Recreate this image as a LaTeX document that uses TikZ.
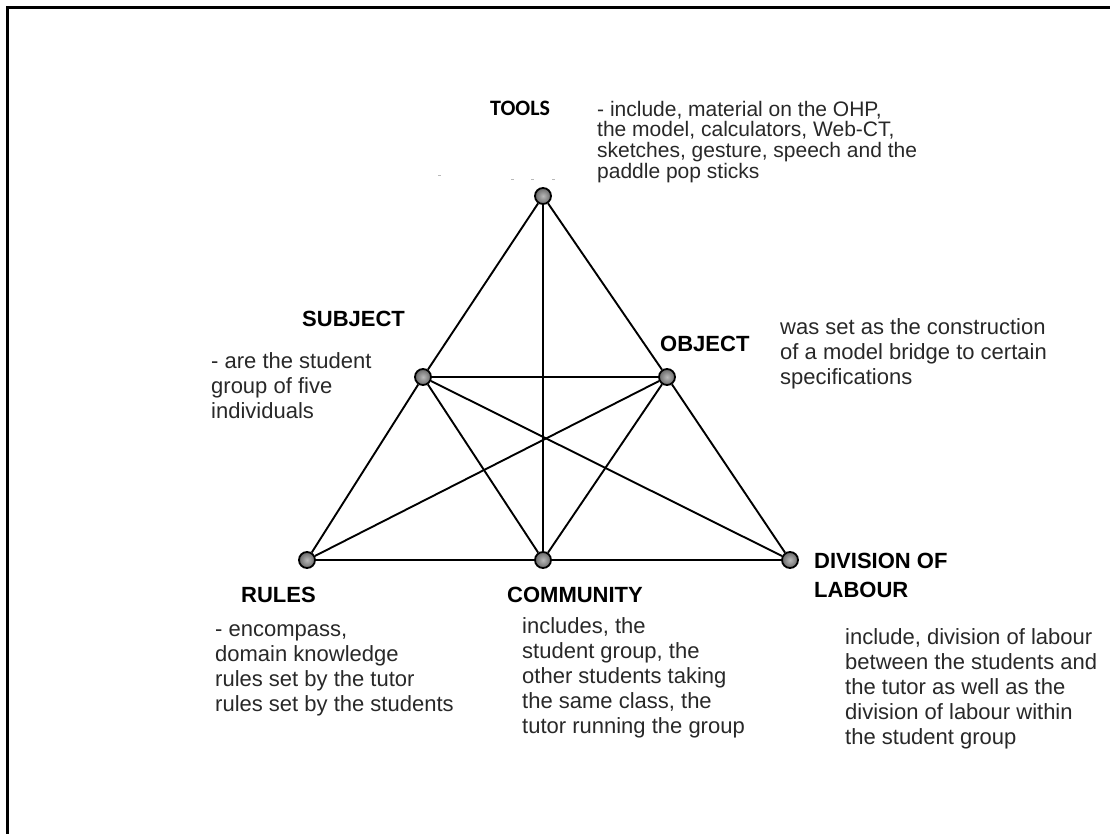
\documentclass[tikz,border=0pt]{standalone}
\usepackage{fontspec}
\setmainfont{Liberation Sans}
\newfontfamily\calibrifont{Carlito}
\definecolor{txt}{RGB}{40,40,40}
\definecolor{dotin}{RGB}{185,185,185}
\definecolor{dotout}{RGB}{105,105,105}
\newcommand{\tp}{\rule{0pt}{17pt}}
\begin{document}
\begin{tikzpicture}[x=1pt,y=-1pt,
  dot/.style={circle, minimum size=16pt, inner sep=0pt, draw=black, line width=1.8pt, inner color=dotin, outer color=dotout},
  edge/.style={line width=1.9pt, draw=black},
  body/.style={anchor=north west, align=left, inner sep=0pt, font=\fontsize{22}{25}\selectfont, text=txt},
  lab/.style={anchor=base west, inner sep=0pt, font=\fontsize{22}{26}\selectfont\bfseries, text=black},
  speck/.style={draw=gray!55, line width=1pt}]
\useasboundingbox (0,0) rectangle (1110,834);
\draw[line width=3pt] (7.5,834) -- (7.5,8) -- (1110,8);

\node[dot] (tools) at (543,196) {};
\node[dot] (subj) at (423,377) {};
\node[dot] (obj) at (667,377) {};
\node[dot] (rules) at (307,560) {};
\node[dot] (comm) at (543,560) {};
\node[dot] (div) at (790,560) {};

\draw[edge] (tools) -- (subj);
\draw[edge] (subj) -- (rules);
\draw[edge] (tools) -- (obj);
\draw[edge] (obj) -- (div);
\draw[edge] (tools) -- (comm);
\draw[edge] (subj) -- (obj);
\draw[edge] (subj) -- (comm);
\draw[edge] (subj) -- (div);
\draw[edge] (obj) -- (rules);
\draw[edge] (obj) -- (comm);
\draw[edge] (rules) -- (comm);
\draw[edge] (comm) -- (div);

\draw[speck] (438,176) -- (441,176);
\draw[speck] (511,180) -- (514,180);
\draw[speck] (531,180) -- (534,180);
\draw[speck] (552,180) -- (555,180);

\node[anchor=base west, inner sep=0pt, font=\calibrifont\fontsize{22}{24}\selectfont\bfseries] (toolsl) at (490,116) {TOOLS};
\node[body, font=\fontsize{21}{20.7}\selectfont] (toolst) at (597,99) {\tp- include, material on the OHP,\\the model, calculators, Web-CT,\\sketches, gesture, speech and the\\paddle pop sticks};

\node[lab] (subjl) at (302,326) {SUBJECT};
\node[body] (subjt) at (211,351) {\tp- are the student\\group of five\\individuals};

\node[lab] (objl) at (660,351) {OBJECT};
\node[body] (objt) at (780,317) {\tp was set as the construction\\of a model bridge to certain\\specifications};

\node[lab] (rulesl) at (241,602) {RULES};
\node[body] (rulest) at (215,619) {\tp- encompass,\\domain knowledge\\rules set by the tutor\\rules set by the students};

\node[lab] (comml) at (507,602) {COMMUNITY};
\node[body] (commt) at (522,616) {\tp includes, the\\student group, the\\other students taking\\the same class, the\\tutor running the group};

\node[lab] (divl1) at (814,568) {DIVISION OF};
\node[lab] (divl2) at (814,597) {LABOUR};
\node[body] (divt) at (845,627) {\tp include, division of labour\\between the students and\\the tutor as well as the\\division of labour within\\the student group};
\end{tikzpicture}
\end{document}
